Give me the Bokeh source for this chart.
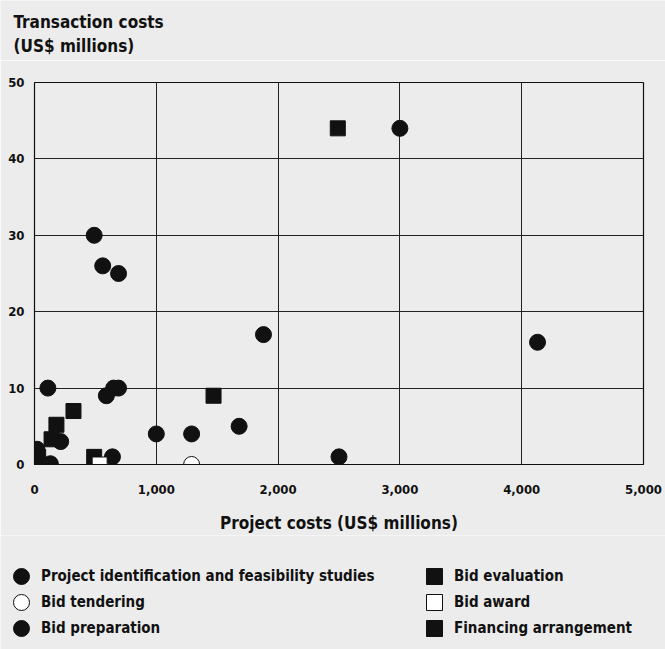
from bokeh.plotting import figure
from bokeh.layouts import column
from bokeh.models import Legend, LegendItem, Label, NumeralTickFormatter, FixedTicker, Range1d
from bokeh.embed import file_html
from bokeh.resources import INLINE

FONT = "DejaVu Sans Condensed, DejaVu Sans, sans-serif"

x_ticks = [0, 1000, 2000, 3000, 4000, 5000]
y_ticks = [0, 10, 20, 30, 40, 50]

# Black circles
proj_id_x = [3000, 490, 560, 690, 1880, 4130, 110, 650, 690, 590]
proj_id_y = [44, 30, 26, 25, 17, 16, 10, 10, 10, 9]
bid_prep_x = [1000, 1290, 1680, 640, 2500, 215, 8, 20, 130, 60]
bid_prep_y = [4, 4, 5, 1, 1, 3, 1.2, 2, 0.1, 0]
# White circle
bid_tender_x = [1290]
bid_tender_y = [0]
# Black squares
bid_eval_x = [2490, 1470, 320, 490]
bid_eval_y = [44, 9, 7, 1]
fin_x = [180, 140, 0, 30]
fin_y = [5.2, 3.3, 0, 1]
# White square
bid_award_x = [535]
bid_award_y = [0]

y_title = ["Transaction costs", "(US$ millions)"]
x_title = "Project costs (US$ millions)"

BG = "#ececec"
INK = "#111111"

series = [
    ("Project identification and feasibility studies", proj_id_x, proj_id_y, "circle", 16, INK),
    ("Bid tendering", bid_tender_x, bid_tender_y, "circle", 16, "white"),
    ("Bid preparation", bid_prep_x, bid_prep_y, "circle", 16, INK),
    ("Bid evaluation", bid_eval_x, bid_eval_y, "square", 15, INK),
    ("Bid award", bid_award_x, bid_award_y, "square", 15, "white"),
    ("Financing arrangement", fin_x, fin_y, "square", 15, INK),
]

# --- top strip with the y-axis title ---
t = figure(width=665, height=60, output_backend="svg", toolbar_location=None,
           x_range=Range1d(0, 1), y_range=Range1d(0, 1), frame_align=False,
           x_axis_location=None, y_axis_location=None, min_border=0,
           background_fill_color=BG, border_fill_color=BG)
t.grid.visible = False
t.outline_line_color = None
for txt, yy in zip(y_title, (39, 15)):
    t.add_layout(Label(x=13, y=yy, x_units="screen", y_units="screen", text=txt,
                       text_font=FONT, text_font_style="bold", text_font_size="17px",
                       text_color=INK, text_baseline="middle", text_align="left"))

# --- main chart ---
p = figure(frame_width=609, frame_height=382, output_backend="svg", toolbar_location=None,
           x_range=Range1d(0, 5000), y_range=Range1d(0, 50),
           min_border_left=34, min_border_right=22, min_border_top=22, min_border_bottom=10,
           background_fill_color=BG, border_fill_color=BG)

p.outline_line_color = INK
p.outline_line_width = 1.2

for ax in (p.xaxis[0], p.yaxis[0]):
    ax.major_tick_line_color = None
    ax.minor_tick_line_color = None
    ax.major_tick_out = 0
    ax.major_tick_in = 0
    ax.minor_tick_out = 0
    ax.axis_line_color = INK
    ax.major_label_text_font = FONT
    ax.major_label_text_font_style = "bold"
    ax.major_label_text_font_size = "13px"
    ax.major_label_text_color = INK

p.xaxis.ticker = FixedTicker(ticks=x_ticks)
p.yaxis.ticker = FixedTicker(ticks=y_ticks)
p.xaxis.formatter = NumeralTickFormatter(format="0,0")
p.xaxis.major_label_standoff = 20
p.yaxis.major_label_standoff = 10
p.xaxis.axis_label = x_title
p.xaxis.axis_label_text_font = FONT
p.xaxis.axis_label_text_font_style = "bold"
p.xaxis.axis_label_text_font_size = "17px"
p.xaxis.axis_label_text_color = INK
p.xaxis.axis_label_standoff = 16

p.grid.grid_line_color = "#222222"
p.grid.grid_line_width = 1
p.xgrid.ticker = FixedTicker(ticks=x_ticks)
p.ygrid.ticker = FixedTicker(ticks=y_ticks)

for lab, xs, ys, mk, sz, fc in series:
    p.scatter(xs, ys, marker=mk, size=sz, fill_color=fc, line_color=INK, line_width=1)

# --- legend strip below the chart ---
q = figure(width=665, height=114, output_backend="svg", toolbar_location=None,
           x_range=Range1d(0, 5000), y_range=Range1d(0, 50), frame_align=False,
           x_axis_location=None, y_axis_location=None, min_border=0,
           background_fill_color=BG, border_fill_color=BG)
q.grid.visible = False
q.outline_line_color = None

legend_x = [1, 1, 1, 414, 414, 414]
legend_y = [53, 27, 1, 53, 27, 1]
for (lab, xs, ys, mk, sz, fc), lx, ly in zip(series, legend_x, legend_y):
    r = q.scatter(xs, ys, marker=mk, size=sz, fill_color=fc, line_color=INK, line_width=1, visible=False)
    q.add_layout(Legend(items=[LegendItem(label=lab, renderers=[r])], location=(lx, ly),
                        orientation="vertical", padding=0, margin=0, spacing=0,
                        glyph_width=40, glyph_height=40, label_height=40, label_standoff=0,
                        border_line_color=None, background_fill_alpha=0,
                        label_text_font=FONT, label_text_font_style="bold",
                        label_text_font_size="15px", label_text_color=INK), "center")

layout = column(t, p, q, spacing=0)
open("out.html", "w").write(file_html(layout, INLINE))
